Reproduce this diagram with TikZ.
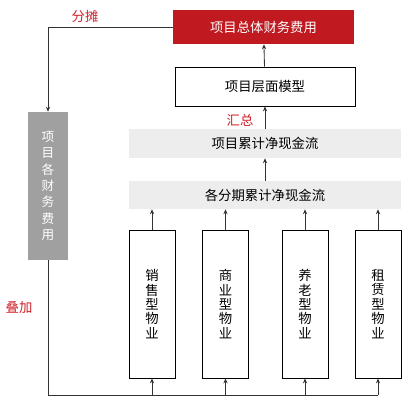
\documentclass[tikz,border=0pt]{standalone}
\usepackage{fontspec}
\newfontfamily\cjk{Noto Sans CJK SC}
\usetikzlibrary{arrows.meta}
\definecolor{hired}{HTML}{C0191F}
\definecolor{lblred}{HTML}{D0202A}
\definecolor{midgray}{HTML}{A0A0A0}
\definecolor{palegray}{HTML}{EDEDED}
\definecolor{linegray}{HTML}{333333}
\tikzset{
  redbox/.style={fill=hired, text=white, minimum width=4.525cm, minimum height=0.85cm},
  whitebox/.style={draw=black, line width=0.6pt, fill=white, minimum width=4.5cm, minimum height=0.975cm},
  flowbox/.style={fill=palegray, minimum width=6.8cm, minimum height=0.7cm},
  typebox/.style={draw=black, line width=0.6pt, minimum width=1.15cm, minimum height=3.7cm, align=center, font=\cjk\fontsize{9.5}{10.2}\selectfont},
  sumbox/.style={fill=midgray, text=white, minimum width=1cm, minimum height=3.7cm, align=center, font=\cjk\fontsize{9}{11.7}\selectfont},
  tag/.style={text=lblred},
  link/.style={draw=linegray, line width=0.6pt},
  uparrow/.style={link, -{Stealth[length=3.5pt,width=3pt]}}
}
\begin{document}
\begin{tikzpicture}[x=0.025cm, y=-0.025cm, font=\cjk\fontsize{9.5}{11}\selectfont, inner sep=0pt]
	\useasboundingbox (0,0) rectangle (407,401);
	\node[redbox] (total) at (263.5,27) {项目总体财务费用};
	\node[whitebox] (layer) at (265,86.5) {项目层面模型};
	\node[flowbox, minimum height=0.725cm] (cum) at (265,143.5) {项目累计净现金流};
	\node[flowbox] (period) at (265,195) {各分期累计净现金流};
	\node[sumbox] (each) at (48,186) {项\\目\\各\\财\\务\\费\\用};
	\node[typebox] (sale) at (152,304) {销\\售\\型\\物\\业};
	\node[typebox] (comm) at (225.5,304) {商\\业\\型\\物\\业};
	\node[typebox] (care) at (305,304) {养\\老\\型\\物\\业};
	\node[typebox] (rent) at (378,304) {租\\赁\\型\\物\\业};
	\node[tag] (split) at (85,16) {分摊};
	\node[tag] (gather) at (240,120) {汇总};
	\node[tag] (stack) at (19,308) {叠加};
	\coordinate (base) at (48,395);
	\draw[uparrow] (layer) -- (total);
	\draw[uparrow] (cum) -- (layer);
	\draw[uparrow] (period) -- (cum);
	\draw[uparrow] (total.west) -| (each.north);
	\draw[link] (each.south) -- (base) -- (base -| rent);
	\foreach \p in {sale,comm,care,rent} {
		\draw[uparrow] (base -| \p) -- (\p.south);
		\draw[uparrow] (\p.north) -- (\p.north |- period.south);
	}
\end{tikzpicture}
\end{document}
